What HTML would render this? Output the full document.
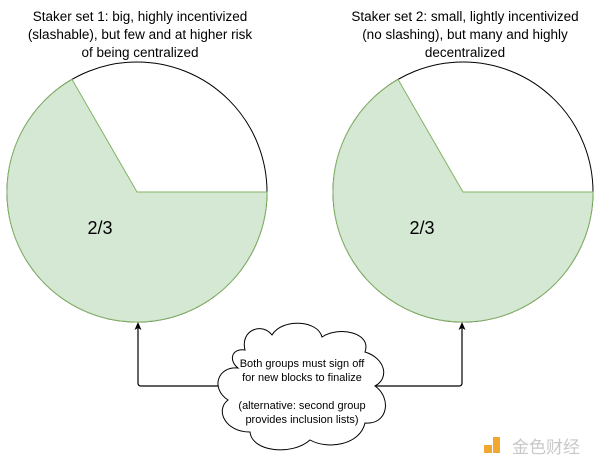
<!DOCTYPE html>
<html><head><meta charset="utf-8"><style>
body{margin:0;background:#fff;}
svg{display:block;}
text{font-family:"Liberation Sans",Arial,sans-serif;fill:#000;}
</style></head><body>
<svg width="600" height="468" viewBox="0 0 600 468" xmlns="http://www.w3.org/2000/svg">
<rect width="600" height="468" fill="#fff"/>
<g font-size="13.5" text-anchor="middle">
<text x="140" y="21">Staker set 1: big, highly incentivized</text>
<text x="140" y="39">(slashable), but few and at higher risk</text>
<text x="140" y="57">of being centralized</text>
<text x="465" y="21">Staker set 2: small, lightly incentivized</text>
<text x="465" y="39">(no slashing), but many and highly</text>
<text x="465" y="57">decentralized</text>
</g>
<g>
<circle cx="137" cy="192" r="130" fill="#fff" stroke="#000" stroke-width="1"/>
<path d="M137,192 L267,192 A130,130 0 1,1 72,79.4 Z" fill="#d5e8d4" stroke="#82b366" stroke-width="1"/>
<text x="100" y="234" font-size="18" text-anchor="middle">2/3</text>
<circle cx="463" cy="192" r="130" fill="#fff" stroke="#000" stroke-width="1"/>
<path d="M463,192 L593,192 A130,130 0 1,1 398,79.4 Z" fill="#d5e8d4" stroke="#82b366" stroke-width="1"/>
<text x="422" y="234" font-size="18" text-anchor="middle">2/3</text>
</g>
<g fill="none" stroke="#000" stroke-width="1.2">
<path d="M220,386 L141,386 Q138,386 138,383 L138,328"/>
<path d="M376,386 L459,386 Q462,386 462,383 L462,328"/>
</g>
<path d="M138,322 L134.5,330 L138,328 L141.5,330 Z" fill="#000"/>
<path d="M462,322 L458.5,330 L462,328 L465.5,330 Z" fill="#000"/>
<path d="M245,350 C240,330 262,322 272,335 C282,318 318,320 322,337 C338,326 372,332 365,352 C385,358 390,378 375,386 C392,398 388,425 365,423 C360,445 328,450 310,440 C292,456 252,452 250,432 C225,432 215,410 228,400 C210,388 218,366 238,368 C228,360 232,348 245,350 Z" fill="#fff" stroke="#000" stroke-width="1"/>
<g font-size="11" text-anchor="middle">
<text x="302" y="367">Both groups must sign off</text>
<text x="302" y="381">for new blocks to finalize</text>
<text x="302" y="409">(alternative: second group</text>
<text x="302" y="423">provides inclusion lists)</text>
</g>
<rect x="484" y="445" width="8" height="8" fill="#f0a830"/>
<rect x="493" y="437" width="7" height="16" fill="#f0a830"/>
<text x="546" y="453" font-size="17" text-anchor="middle" style="font-family:'Liberation Sans','Noto Sans CJK SC',sans-serif;fill:#c8c8c8">金色财经</text>
</svg>
</body></html>
